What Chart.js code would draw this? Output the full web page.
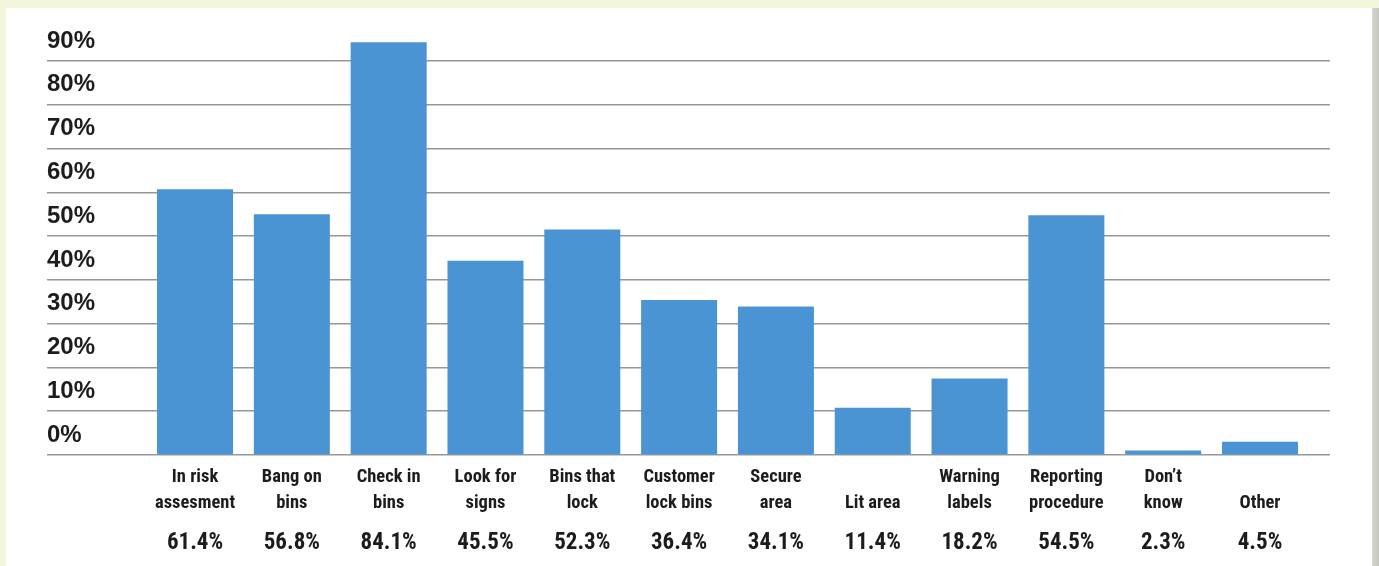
<!DOCTYPE html>
<html>
<head>
<meta charset="utf-8">
<script src="https://cdn.jsdelivr.net/npm/chart.js@4/dist/chart.umd.min.js"></script>
<style>
  html, body { margin: 0; padding: 0; }
  body { width: 1379px; height: 566px; background: #f3f6dc; position: relative; overflow: hidden; }
  #sheet { position: absolute; left: 6px; top: 8px; width: 1366px; height: 558px; background: #ffffff; }
  #shadow { position: absolute; left: 1372px; top: 8px; width: 7px; height: 558px; background: linear-gradient(to right, #d6d8cf, #c4c6bd); }
  canvas { display: block; }
</style>
</head>
<body>
<div id="sheet"><canvas id="c" width="1366" height="558"></canvas></div>
<div id="shadow"></div>
<script>
// Category names (two lines each, first line empty for one-line names)
const categoryLines = [
  ["In risk", "assesment"],
  ["Bang on", "bins"],
  ["Check in", "bins"],
  ["Look for", "signs"],
  ["Bins that", "lock"],
  ["Customer", "lock bins"],
  ["Secure", "area"],
  ["", "Lit area"],
  ["Warning", "labels"],
  ["Reporting", "procedure"],
  ["Don\u2019t", "know"],
  ["", "Other"]
];
// Percentages printed under each category
const percentLabels = ["61.4%", "56.8%", "84.1%", "45.5%", "52.3%", "36.4%", "34.1%", "11.4%", "18.2%", "54.5%", "2.3%", "4.5%"];
// Bar heights as drawn in the picture (percent)
const barValues = [60.7, 55.0, 94.3, 44.4, 51.5, 35.4, 33.9, 10.8, 17.5, 54.8, 1.0, 3.0];
// Y-axis tick values
const yTicks = [0, 10, 20, 30, 40, 50, 60, 70, 80, 90];

const X_MIN = -1.529, X_MAX = 11.723;
const condensed = "'Roboto Condensed', 'Liberation Sans Narrow', 'DejaVu Sans Condensed', sans-serif";

const points = barValues.map((v, i) => ({ x: i, y: v }));

function idxLabel(arr, value) {
  const i = Math.round(value);
  if (Math.abs(value - i) > 1e-6 || i < 0 || i >= arr.length) return '';
  return arr[i];
}

new Chart(document.getElementById('c'), {
  type: 'bar',
  data: {
    datasets: [{
      data: points,
      backgroundColor: '#4a94d3',
      borderWidth: 0,
      categoryPercentage: 0.785,
      barPercentage: 1.0
    }]
  },
  options: {
    responsive: false,
    animation: false,
    events: [],
    layout: { padding: { left: 41, right: 42, top: 29, bottom: 5 } },
    plugins: { legend: { display: false }, tooltip: { enabled: false } },
    scales: {
      x: {
        type: 'linear',
        position: 'bottom',
        offset: false,
        weight: 0,
        min: X_MIN,
        max: X_MAX,
        grid: { display: false, drawTicks: false, offset: false },
        border: { display: false },
        ticks: {
          stepSize: 1,
          includeBounds: false,
          autoSkip: false,
          maxRotation: 0,
          minRotation: 0,
          padding: 9,
          color: '#1c1c1c',
          font: { family: condensed, weight: 'bold', size: 18.5, lineHeight: '26px' },
          callback: (value) => idxLabel(categoryLines, value)
        }
      },
      x2: {
        type: 'linear',
        position: 'bottom',
        offset: false,
        weight: 1,
        min: X_MIN,
        max: X_MAX,
        grid: { display: false, drawTicks: false, offset: false },
        border: { display: false },
        ticks: {
          stepSize: 1,
          includeBounds: false,
          autoSkip: false,
          maxRotation: 0,
          minRotation: 0,
          padding: 4.2,
          color: '#1c1c1c',
          font: { family: condensed, weight: 'bold', size: 23, lineHeight: 1.2 },
          callback: (value) => idxLabel(percentLabels, value)
        }
      },
      y: {
        type: 'linear',
        min: 0,
        max: 95.5,
        grid: { color: '#979797', lineWidth: 1.5, drawTicks: false },
        border: { display: false },
        afterBuildTicks: (axis) => { axis.ticks = yTicks.map(v => ({ value: v })); },
        ticks: {
          mirror: true,
          padding: 0,
          labelOffset: -20,
          color: '#1c1c1c',
          font: { family: "'Liberation Sans', Arial, sans-serif", weight: 'bold', size: 24 },
          callback: (value) => value + '%'
        }
      }
    }
  }
});
</script>
</body>
</html>
